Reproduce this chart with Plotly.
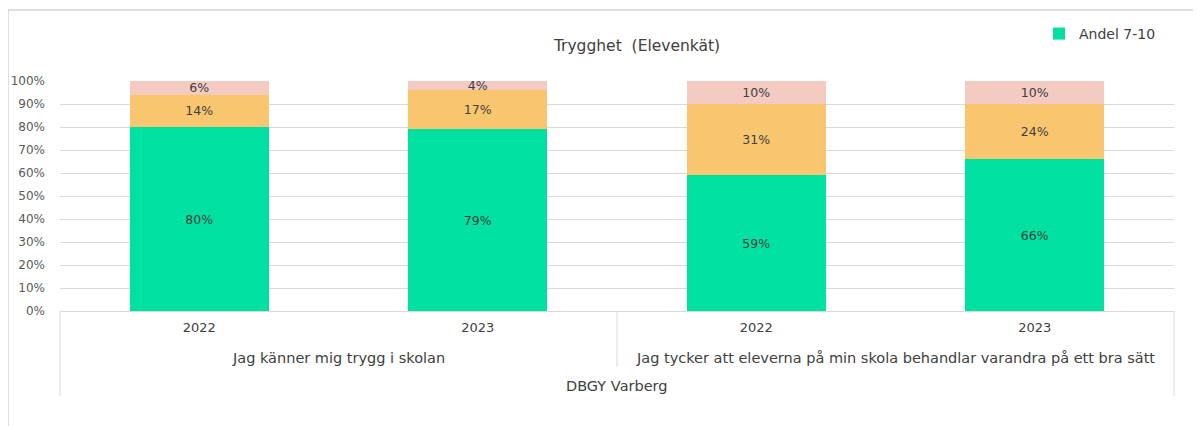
import plotly.graph_objects as go

questions = ["Jag känner mig trygg i skolan",
             "Jag tycker att eleverna på min skola behandlar varandra på ett bra sätt"]
years = ["2022", "2023"]
school = "DBGY Varberg"

andel_7_10 = [80, 79, 59, 66]
andel_4_6 = [14, 17, 31, 24]
andel_1_3 = [6, 4, 10, 10]

green = '#00E0A0'
orange = '#F8C66F'
pink = '#F3CBC2'
grid = '#D9D9D9'
txt = '#404040'
font_family = 'DejaVu Sans'

# the page body adds an 8px offset, so positions are shifted back by it
off = 8

# one unique category per bar, labelled by year on the axis
cats = [f"{q}|{y}" for q in questions for y in years]
cat_years = [y for q in questions for y in years]

fig = go.Figure()
for name, vals, color, show in [('Andel 7-10', andel_7_10, green, True),
                                ('Andel 4-6', andel_4_6, orange, False),
                                ('Andel 1-3', andel_1_3, pink, False)]:
    fig.add_trace(go.Bar(
        x=cats, y=vals, name=name, marker=dict(color=color, line=dict(width=0)),
        text=[f"{v}%" for v in vals], textposition='inside',
        insidetextanchor='middle', textangle=0,
        textfont=dict(color=txt, size=12.5, family=font_family),
        showlegend=show,
    ))

fig.update_layout(
    width=1201, height=426,
    barmode='stack', bargap=0.5,
    margin=dict(l=60 - off, r=27 + off, t=81 - off, b=115 + off, autoexpand=False),
    paper_bgcolor='white', plot_bgcolor='white',
    font=dict(family=font_family, color='#595959', size=12),
    uniformtext=dict(minsize=12.5, mode='show'),
    title=dict(text='Trygghet  (Elevenkät)', x=(637 - off) / 1201, xref='container', xanchor='center',
               y=1 - (46 - off) / 426, yref='container', yanchor='middle',
               font=dict(size=15.5, color='#404040', family=font_family)),
    legend=dict(x=1031 / 1201, y=1 - (34 - off) / 426, xref='container', yref='container',
                xanchor='left', yanchor='middle',
                font=dict(size=14, color='#404040'), bgcolor='rgba(0,0,0,0)'),
    xaxis=dict(type='category', tickvals=cats, ticktext=cat_years, showline=True,
               linecolor=grid, linewidth=1, showgrid=False, ticks='', automargin=False,
               ticklabelstandoff=4, tickfont=dict(size=13, color=txt)),
    yaxis=dict(range=[0, 100], dtick=10, ticksuffix='%', showgrid=True, gridcolor=grid,
               gridwidth=1, zeroline=False, showline=False, ticks='', automargin=False,
               ticklabelstandoff=14, tickfont=dict(size=12, color='#595959')),
)

# outer chart frame
fig.add_shape(type='rect', xref='paper', yref='paper',
              x0=-52 / 1114, x1=1.06, y0=-0.6, y1=(311 - 10) / 230,
              line=dict(color='#BFBFBF', width=1), fillcolor='rgba(0,0,0,0)', layer='below')

# dividers of the grouped category axis
for xp, ybot in [(0, 396), (0.5, 367), (1, 396)]:
    fig.add_shape(type='line', xref='paper', yref='paper', x0=xp, x1=xp,
                  y0=0, y1=(311 - ybot) / 230, line=dict(color=grid, width=1))

for i, q in enumerate(questions):
    fig.add_annotation(text=q, xref='paper', yref='paper', x=0.25 + 0.5 * i,
                       y=(311 - 358) / 230, showarrow=False, xanchor='center', yanchor='middle',
                       font=dict(size=14.5, color=txt))
fig.add_annotation(text=school, xref='paper', yref='paper', x=0.5,
                   y=(311 - 386) / 230, showarrow=False, xanchor='center', yanchor='middle',
                   font=dict(size=14.5, color=txt))

fig.write_html("out.html")
